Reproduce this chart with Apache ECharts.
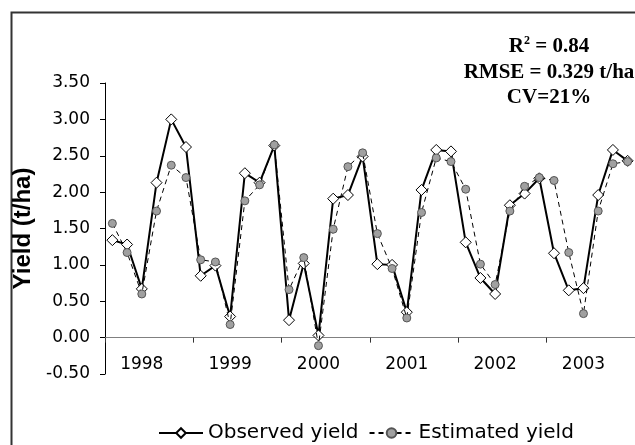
<!DOCTYPE html>
<html>
<head>
<meta charset="utf-8">
<script src="https://cdn.jsdelivr.net/npm/echarts@6/dist/echarts.min.js"></script>
<style>
html,body{margin:0;padding:0;background:#fff;}
#chart{width:635px;height:445px;}
</style>
</head>
<body>
<div id="chart"></div>
<script>
var years = ['1998', '1999', '2000', '2001', '2002', '2003'];
var periodsPerYear = 6;
var yTicks = [-0.5, 0, 0.5, 1, 1.5, 2, 2.5, 3, 3.5];
var observed = [1.34,1.28,0.67,2.13,3.00,2.62,0.85,0.99,0.29,2.26,
                2.13,2.64,0.24,1.02,0.03,1.91,1.96,2.49,1.01,1.00,
                0.35,2.03,2.58,2.56,1.31,0.82,0.60,1.82,1.98,2.19,
                1.16,0.65,0.68,1.96,2.58,2.43];
var estimated = [1.57,1.17,0.60,1.74,2.37,2.20,1.07,1.04,0.18,1.88,
                 2.10,2.65,0.66,1.10,-0.11,1.49,2.35,2.54,1.43,0.95,
                 0.27,1.72,2.47,2.42,2.04,1.01,0.73,1.74,2.08,2.20,
                 2.16,1.17,0.33,1.74,2.39,2.42];
var statLines = ['R2 = 0.84', 'RMSE = 0.329 t/ha', 'CV=21%'];

var categories = [];
years.forEach(function (y) {
  for (var i = 1; i <= periodsPerYear; i++) categories.push(y + '-' + i);
});

var chart = echarts.init(document.getElementById('chart'));
chart.setOption({
  animation: false,
  backgroundColor: '#fff',
  graphic: [{
    type: 'rect',
    left: 9, top: 10,
    shape: { width: 800, height: 600 },
    style: { fill: 'none', stroke: '#333', lineWidth: 2 },
    silent: true
  }],
  title: {
    left: 544, top: 29, textAlign: 'center',
    text: '{b|R}{sup|2}{b| = 0.84}\n{b|' + statLines[1] + '}\n{b|' + statLines[2] + '}',
    textStyle: {
      rich: {
        b: { fontFamily: 'Liberation Serif', fontWeight: 'bold', fontSize: 21, color: '#000', lineHeight: 25.5 },
        sup: { fontFamily: 'Liberation Serif', fontWeight: 'bold', fontSize: 12, color: '#000', padding: [0, 0, 11, 0], lineHeight: 25.5 }
      }
    }
  },
  legend: {
    left: 153, top: 418,
    itemWidth: 44, itemHeight: 12, itemGap: 10,
    textStyle: { fontFamily: 'DejaVu Sans', fontSize: 20, color: '#000' },
    data: ['Observed yield', 'Estimated yield']
  },
  grid: { left: 105, top: 83, width: 532, height: 291 },
  xAxis: {
    type: 'category',
    data: categories,
    boundaryGap: true,
    axisLine: { onZero: true, lineStyle: { color: '#808080', width: 1 } },
    axisTick: {
      show: true, length: 5, inside: false,
      interval: function (i) { return i % periodsPerYear === 0; },
      lineStyle: { color: '#333' }
    },
    axisLabel: {
      interval: function (i) { return i % periodsPerYear === 2; },
      formatter: function (v) { return v.split('-')[0]; },
      fontFamily: 'DejaVu Sans', fontSize: 17, color: '#000', margin: -18
    },
    splitLine: { show: false }
  },
  yAxis: {
    type: 'value',
    min: yTicks[0], max: yTicks[yTicks.length - 1], interval: 0.5,
    name: 'Yield (t/ha)',
    nameLocation: 'middle',
    nameGap: 53,
    nameRotate: 90,
    nameTextStyle: { fontFamily: 'Liberation Sans', fontWeight: 'bold', fontSize: 24, color: '#000' },
    axisLine: { show: true, lineStyle: { color: '#000', width: 1 } },
    axisTick: { show: true, length: 5, inside: false, lineStyle: { color: '#000' } },
    axisLabel: {
      formatter: function (v) { return v.toFixed(2); },
      fontFamily: 'DejaVu Sans', fontSize: 17, color: '#000', margin: 15
    },
    splitLine: { show: false }
  },
  series: [{
    name: 'Observed yield',
    type: 'line',
    data: observed,
    symbol: 'diamond',
    symbolSize: 11,
    showAllSymbol: true,
    lineStyle: { color: '#000', width: 2 },
    itemStyle: { color: '#fff', borderColor: '#000', borderWidth: 1 },
    z: 2
  }, {
    name: 'Estimated yield',
    type: 'line',
    data: estimated,
    symbol: 'circle',
    symbolSize: 8,
    showAllSymbol: true,
    lineStyle: { color: '#000', width: 1, type: [5, 4] },
    itemStyle: { color: '#a0a0a0', borderColor: '#555', borderWidth: 1 },
    z: 3
  }]
});
</script>
</body>
</html>
